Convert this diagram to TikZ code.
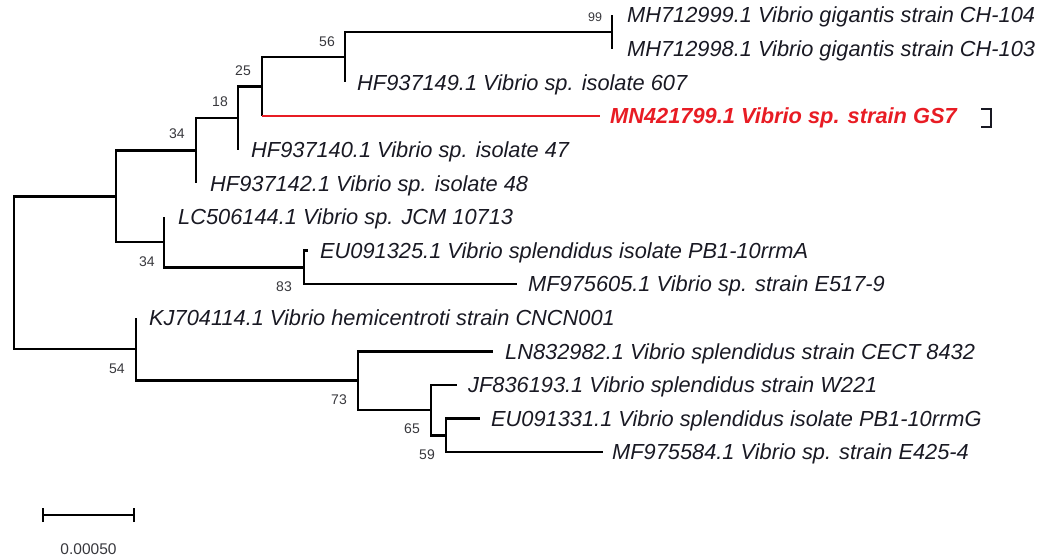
\documentclass[tikz,border=0pt]{standalone}
\usepackage{fontspec}
\setmainfont{Liberation Sans}
\definecolor{gsred}{RGB}{232,28,36}
\definecolor{txt}{RGB}{25,25,35}
\definecolor{bsc}{RGB}{55,55,60}
\begin{document}
\begin{tikzpicture}[x=1pt,y=-1pt,
  br/.style={line width=2.6pt, draw=black},
  redbr/.style={line width=1.8pt, draw=gsred},
  leaf/.style={anchor=base west, inner sep=0pt, text=txt,
    font=\fontsize{21.8}{26}\selectfont\itshape},
  redleaf/.style={leaf, text=gsred, font=\fontsize{21.8}{26}\selectfont\itshape\bfseries},
  boot/.style={inner sep=0pt, text=bsc, font=\fontsize{14}{16}\selectfont},
  scalelab/.style={inner sep=0pt, text=bsc, font=\fontsize{15.5}{18}\selectfont}]
\useasboundingbox (0,0) rectangle (1042,559);
% internal nodes
\coordinate (R) at (14,272.7);
\coordinate (A) at (116,196.3);
\coordinate (B) at (196,150.65);
\coordinate (C) at (238,118.1);
\coordinate (D) at (262,86.6);
\coordinate (E) at (345,57.2);
\coordinate (F) at (612,32);
\coordinate (G) at (164,242);
\coordinate (H) at (304,267.2);
\coordinate (I) at (136,349.1);
\coordinate (J) at (358,380.6);
\coordinate (K) at (431,410);
\coordinate (L) at (446,435.2);
% leaf tips
\coordinate (l1) at (612,15.2);
\coordinate (l2) at (612,48.8);
\coordinate (l3) at (345,82.4);
\coordinate (l4a) at (262,116);
\coordinate (l4) at (600,116);
\coordinate (l5) at (238,149.6);
\coordinate (l6) at (196,183.2);
\coordinate (l7) at (164,216.8);
\coordinate (l8) at (308,250.4);
\coordinate (l9) at (517,284);
\coordinate (l10) at (136,317.6);
\coordinate (l11) at (493,351.2);
\coordinate (l12) at (457,384.8);
\coordinate (l13) at (480,418.4);
\coordinate (l14) at (603,452);
% branches
\draw[br] (R) |- (A);
\draw[br] (R) |- (I);
\draw[br] (A) |- (B);
\draw[br] (A) |- (G);
\draw[br] (B) |- (C);
\draw[br] (B) -- (l6);
\draw[br] (C) |- (D);
\draw[br] (C) -- (l5);
\draw[br] (D) |- (E);
\draw[br] (D) -- (l4a);
\draw[redbr] (l4a) -- (l4);
\draw[br] (E) |- (F);
\draw[br] (E) -- (l3);
\draw[br] (F) -- (l1);
\draw[br] (F) -- (l2);
\draw[br] (G) -- (l7);
\draw[br] (G) |- (H);
\draw[br] (H) |- (l8);
\draw[br] (H) |- (l9);
\draw[br] (I) -- (l10);
\draw[br] (I) |- (J);
\draw[br] (J) |- (l11);
\draw[br] (J) |- (K);
\draw[br] (K) |- (l12);
\draw[br] (K) |- (L);
\draw[br] (L) |- (l13);
\draw[br] (L) |- (l14);
% leaf labels
\node[leaf] (t1) at (627,23.0) {MH712999.1 Vibrio gigantis strain CH-104};
\node[leaf] (t2) at (627,56.6) {MH712998.1 Vibrio gigantis strain CH-103};
\node[leaf] (t3) at (357,90.2) {HF937149.1 Vibrio sp. isolate 607};
\node[redleaf] (t4) at (610,123.8) {MN421799.1 Vibrio sp. strain GS7};
\node[leaf] (t5) at (251,157.4) {HF937140.1 Vibrio sp. isolate 47};
\node[leaf] (t6) at (210,191.0) {HF937142.1 Vibrio sp. isolate 48};
\node[leaf] (t7) at (178,224.6) {LC506144.1 Vibrio sp. JCM 10713};
\node[leaf] (t8) at (320,258.2) {EU091325.1 Vibrio splendidus isolate PB1-10rrmA};
\node[leaf] (t9) at (528,291.8) {MF975605.1 Vibrio sp. strain E517-9};
\node[leaf] (t10) at (149,325.4) {KJ704114.1 Vibrio hemicentroti strain CNCN001};
\node[leaf] (t11) at (505,359.0) {LN832982.1 Vibrio splendidus strain CECT 8432};
\node[leaf] (t12) at (468,392.6) {JF836193.1 Vibrio splendidus strain W221};
\node[leaf] (t13) at (491,426.2) {EU091331.1 Vibrio splendidus isolate PB1-10rrmG};
\node[leaf] (t14) at (612,459.8) {MF975584.1 Vibrio sp. strain E425-4};
% bracket
\coordinate (k1) at (981,109);
\coordinate (k2) at (991,109);
\coordinate (k3) at (991,127);
\coordinate (k4) at (981,127);
\draw[line width=1.2pt, draw=txt] (k1) -- (k2) -- (k3) -- (k4);
% bootstrap values
\node[boot, font=\fontsize{12.5}{14}\selectfont] (b99) at (595,17) {99};
\node[boot] (b56) at (327,42) {56};
\node[boot] (b25) at (243,71) {25};
\node[boot] (b18) at (220,102) {18};
\node[boot] (b34a) at (177,134) {34};
\node[boot] (b34b) at (147,262) {34};
\node[boot] (b83) at (284,287) {83};
\node[boot] (b54) at (117,369) {54};
\node[boot] (b73) at (339,400) {73};
\node[boot] (b65) at (412,429) {65};
\node[boot] (b59) at (427,455) {59};
% scale bar
\coordinate (s1) at (43,515);
\coordinate (s2) at (134,515);
\draw[line width=2pt] (s1) -- (s2);
\draw[line width=1.8pt] ([yshift=-7]s1) -- ([yshift=7]s1);
\draw[line width=1.8pt] ([yshift=-7]s2) -- ([yshift=7]s2);
\node[scalelab] (sl) at (88.5,549) {0.00050};
\end{tikzpicture}
\end{document}
